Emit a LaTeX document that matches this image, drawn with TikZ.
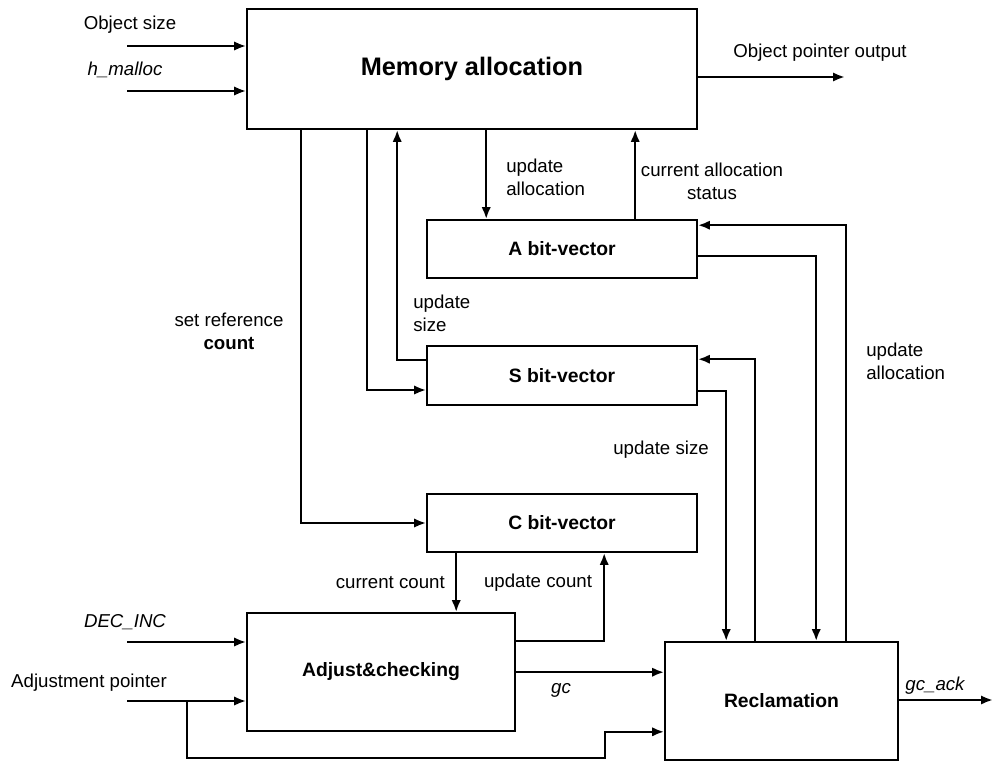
\documentclass[tikz,border=0pt]{standalone}
\usepackage{fontspec}
\setmainfont{Liberation Sans}
\usetikzlibrary{arrows.meta,calc}
\newcommand{\lblsize}{\fontsize{14}{17}\selectfont}
\tikzset{
  blockbox/.style={draw,line width=1.2pt,inner sep=0pt,font=\bfseries\fontsize{14.5}{17}\selectfont},
  sig/.style={line width=1.8pt,-{Latex[length=9pt,width=7pt]}},
  lbl/.style={inner sep=0pt,align=center,font=\lblsize}
}
\begin{document}
\begin{tikzpicture}[x=0.75pt,y=-0.75pt]
  \useasboundingbox (0,0) rectangle (995,761);
  \node[blockbox,minimum width=337.5pt,minimum height=90pt,font=\bfseries\fontsize{19}{22}\selectfont] (mem) at (472,69) {Memory allocation};
  \node[blockbox,minimum width=202.5pt,minimum height=43.5pt] (abv) at (562,249) {A bit-vector};
  \node[blockbox,minimum width=202.5pt,minimum height=44.25pt] (sbv) at (562,375.5) {S bit-vector};
  \node[blockbox,minimum width=202.5pt,minimum height=43.5pt] (cbv) at (562,523) {C bit-vector};
  \node[blockbox,minimum width=201pt,minimum height=88.5pt] (adj) at (381,672) {Adjust\&checking};
  \node[blockbox,minimum width=174.75pt,minimum height=88.5pt] (recl) at (781.5,701) {Reclamation};

  \coordinate (objin) at (127,46);
  \coordinate (mallocin) at (127,91);
  \coordinate (ptrout) at (845,77);
  \coordinate (decin) at (127,642);
  \coordinate (adjin) at (127,701);
  \coordinate (tap) at (187,701);
  \coordinate (low) at (605,758);
  \coordinate (gcack) at (993,700);

  \draw[sig] (objin) -- (objin -| mem.west);
  \draw[sig] (mallocin) -- (mallocin -| mem.west);
  \draw[sig] (ptrout -| mem.east) -- (ptrout);
  \node[lbl] (objl) at (130,25) {Object size};
  \node[lbl] (mallocl) at (125,70) {\itshape h\_malloc};
  \node[lbl] (ptrl) at (820,53) {Object pointer output};

  \draw[sig] ($(mem.south west)+(55,0)$) |- (cbv.west);
  \draw[sig] ($(mem.south west)+(121,0)$) |- ($(sbv.west)+(0,14.5)$);
  \draw[sig] ($(sbv.west)+(0,-15.5)$) -| ($(mem.south west)+(151,0)$);
  \draw[sig] ($(mem.south west)+(240,0)$) -- ($(abv.north west)+(60,0)$);
  \draw[sig] ($(abv.north west)+(209,0)$) -- ($(mem.south west)+(389,0)$);
  \node[lbl] (refl) at (229,331) {set reference\\\textbf{count}};
  \node[lbl,align=left,anchor=west] (sizel) at (413,313) {update\\size};
  \node[lbl,align=left,anchor=west] (allocl) at (506,177) {update\\allocation};
  \node[lbl] (statl) at (712,181) {current allocation\\status};

  \draw[sig] ($(recl.north west)+(182,0)$) |- ($(abv.north east)+(0,6)$);
  \draw[sig] ($(abv.north east)+(0,37)$) -| ($(recl.north west)+(152,0)$);
  \draw[sig] ($(recl.north west)+(91,0)$) |- ($(sbv.north east)+(0,14)$);
  \draw[sig] ($(sbv.north east)+(0,46)$) -| ($(recl.north west)+(62,0)$);
  \node[lbl,align=left,anchor=west] (rallocl) at (866,361) {update\\allocation};
  \node[lbl] (rsizel) at (661,450) {update size};

  \draw[sig] ($(cbv.south west)+(30,0)$) -- ($(adj.north west)+(210,0)$);
  \draw[sig] ($(adj.north east)+(0,29)$) -| ($(cbv.south west)+(178,0)$);
  \node[lbl,anchor=east] (ccl) at (445,583) {current count};
  \node[lbl] (ucl) at (538,583) {update count};

  \draw[sig] (decin) -- (decin -| adj.west);
  \draw[sig] (adjin) -- (adjin -| adj.west);
  \draw[sig] (tap) |- (low) |- ($(recl.south west)+(0,-29)$);
  \node[lbl] (decl) at (125,622) {\itshape DEC\_INC};
  \node[lbl] (adjl) at (89,683) {Adjustment pointer};

  \draw[sig] ($(adj.north east)+(0,60)$) -- ($(recl.north west)+(0,31)$);
  \draw[sig] (gcack -| recl.east) -- (gcack);
  \node[lbl] (gcl) at (561,690) {\itshape gc};
  \node[lbl] (gcackl) at (935,686) {\itshape gc\_ack};
\end{tikzpicture}
\end{document}
